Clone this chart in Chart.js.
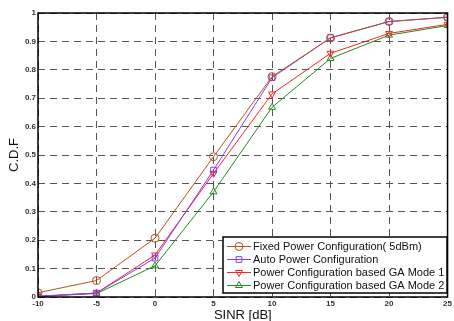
<!DOCTYPE html>
<html>
<head>
<meta charset="utf-8">
<script src="https://cdn.jsdelivr.net/npm/chart.js@4/dist/chart.umd.min.js"></script>
<style>
  html, body { margin: 0; padding: 0; background: #fff; }
  #wrap { width: 454px; height: 321px; }
</style>
</head>
<body>
<div id="wrap"><canvas id="cdf" width="454" height="321"></canvas></div>
<script>
const sinr = [-10, -5, 0, 5, 10, 15, 20, 25];
const fixedPower = [0.015, 0.058, 0.207, 0.494, 0.776, 0.912, 0.970, 0.985];
const autoPower = [0.003, 0.014, 0.137, 0.447, 0.772, 0.913, 0.970, 0.985];
const gaMode1 = [0.002, 0.014, 0.148, 0.435, 0.715, 0.858, 0.928, 0.960];
const gaMode2 = [0.002, 0.012, 0.110, 0.370, 0.668, 0.840, 0.922, 0.956];
const seriesNames = [
  'Fixed Power Configuration( 5dBm)',
  'Auto Power Configuration',
  'Power Configuration based GA Mode 1',
  'Power Configuration based GA Mode 2'
];

const colors = ['#b4521e', '#8a3cf5', '#ff2222', '#1f8f1f'];
const markers = ['circle', 'rect', 'triangle', 'triangle'];
const rotations = [0, 0, 180, 0];

function toPoints(ys) {
  return sinr.map((x, i) => ({ x: x, y: ys[i] }));
}

const datasets = [fixedPower, autoPower, gaMode1, gaMode2].map((ys, i) => ({
  label: seriesNames[i],
  data: toPoints(ys),
  borderColor: colors[i],
  backgroundColor: 'rgba(0,0,0,0)',
  borderWidth: 1,
  pointStyle: markers[i],
  pointRotation: rotations[i],
  pointRadius: 4,
  pointBorderWidth: 1,
  pointBorderColor: colors[i],
  pointBackgroundColor: 'rgba(0,0,0,0)',
  tension: 0
}));

const tickFont = { size: 8, family: 'Arial, "Liberation Sans", sans-serif', weight: 'bold' };

// frame, axis titles and the boxed legend inside the plot
const decorations = {
  id: 'decorations',
  afterDatasetsDraw(chart) {
    const ctx = chart.ctx;
    const a = chart.chartArea;
    ctx.save();
    ctx.strokeStyle = '#000';
    ctx.lineWidth = 1.5;
    ctx.strokeRect(a.left, a.top, a.right - a.left, a.bottom - a.top);

    ctx.fillStyle = '#111';
    ctx.font = '13px Arial, "Liberation Sans", sans-serif';
    ctx.textAlign = 'center';
    ctx.textBaseline = 'middle';
    ctx.fillText('SINR [dB]', (a.left + a.right) / 2, 315);
    ctx.save();
    ctx.translate(14, 155);
    ctx.rotate(-Math.PI / 2);
    ctx.fillText('C.D.F', 0, 0);
    ctx.restore();

    // legend
    const lx = 223, ly = 237, lw = 224, lh = 56;
    ctx.fillStyle = '#fff';
    ctx.fillRect(lx, ly, lw, lh);
    ctx.lineWidth = 1.5;
    ctx.strokeStyle = '#000';
    ctx.strokeRect(lx, ly, lw, lh);
    ctx.font = '11px Arial, "Liberation Sans", sans-serif';
    ctx.textAlign = 'left';
    const rowY = [246.5, 259.5, 272.5, 285.5];
    chart.data.datasets.forEach((ds, i) => {
      const y = rowY[i];
      ctx.strokeStyle = ds.borderColor;
      ctx.lineWidth = 1;
      ctx.beginPath();
      ctx.moveTo(227, y);
      ctx.lineTo(251, y);
      ctx.stroke();
      ctx.fillStyle = 'rgba(0,0,0,0)';
      Chart.helpers.drawPoint(ctx, {
        pointStyle: ds.pointStyle,
        rotation: ds.pointRotation,
        radius: 4,
        borderWidth: 1
      }, 239, y);
      ctx.fillStyle = '#111';
      ctx.fillText(ds.label, 253, y + 0.5);
    });
    ctx.restore();
  }
};

new Chart(document.getElementById('cdf'), {
  type: 'line',
  data: { datasets: datasets },
  options: {
    responsive: false,
    animation: false,
    layout: { padding: { top: 13, right: 5, left: 0, bottom: 0 } },
    plugins: {
      legend: { display: false },
      tooltip: { enabled: false }
    },
    scales: {
      x: {
        type: 'linear',
        min: -10,
        max: 25,
        afterFit(scale) { scale.height = 24; },
        ticks: {
          stepSize: 5,
          padding: 2,
          color: '#333',
          font: tickFont
        },
        grid: {
          color: '#555',
          lineWidth: 1,
          drawTicks: false
        },
        border: { display: false, dash: [7, 5] }
      },
      y: {
        type: 'linear',
        min: 0,
        max: 1,
        afterFit(scale) { scale.width = 38; },
        ticks: {
          stepSize: 0.1,
          padding: 2,
          color: '#333',
          font: tickFont,
          callback: (v) => String(Math.round(v * 10) / 10)
        },
        grid: {
          color: '#555',
          lineWidth: 1,
          drawTicks: false
        },
        border: { display: false, dash: [7, 5] }
      }
    }
  },
  plugins: [decorations]
});
</script>
</body>
</html>
